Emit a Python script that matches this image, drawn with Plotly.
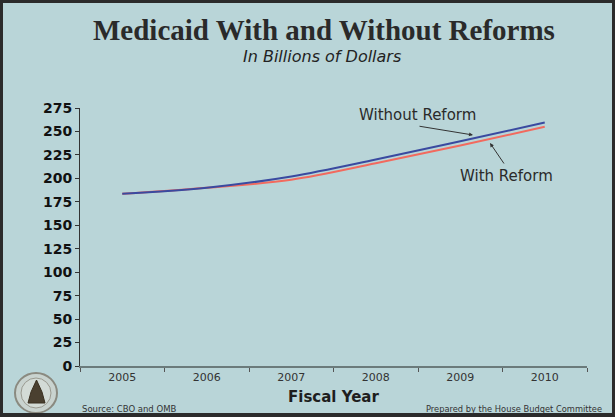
import plotly.graph_objects as go

years = ["2005", "2006", "2007", "2008", "2009", "2010"]
without_reform = [183.5, 190, 202, 220, 239.5, 259.5]
with_reform = [183.5, 190, 198.5, 216, 235, 255]
y_ticks = [0, 25, 50, 75, 100, 125, 150, 175, 200, 225, 250, 275]

W, H = 615, 417
L, R, T, B = 80, 28, 108, 51
PW, PH = W - L - R, H - T - B


def px(x):
    return (x - L) / PW


def py(y):
    return (H - B - y) / PH


BG = "#b9d5d8"

fig = go.Figure()
fig.add_trace(go.Scatter(x=years, y=with_reform, mode="lines", line=dict(color="#f26a5e", width=2, shape="spline"),
                         name="With Reform", showlegend=False))
fig.add_trace(go.Scatter(x=years, y=without_reform, mode="lines", line=dict(color="#3a4aa0", width=2, shape="spline"),
                         name="Without Reform", showlegend=False))

ann = []
ann.append(dict(text="<b>Medicaid With and Without Reforms</b>", x=px(324), y=py(30), xref="paper", yref="paper",
                showarrow=False, font=dict(family="Liberation Serif", size=29, color="#2a2a2a"),
                xanchor="center", yanchor="middle"))
ann.append(dict(text="<i>In Billions of Dollars</i>", x=px(322), y=py(56), xref="paper", yref="paper",
                showarrow=False, font=dict(family="DejaVu Sans", size=16, color="#222"),
                xanchor="center", yanchor="middle"))
ann.append(dict(text="Without Reform", x=px(417), y=py(115), xref="paper", yref="paper", showarrow=False,
                font=dict(family="DejaVu Sans", size=15, color="#2a2a2a"), xanchor="center", yanchor="middle"))
ann.append(dict(text="With Reform", x=px(506), y=py(176), xref="paper", yref="paper", showarrow=False,
                font=dict(family="DejaVu Sans", size=15, color="#2a2a2a"), xanchor="center", yanchor="middle"))
ann.append(dict(text="", x=px(473), y=py(135), xref="paper", yref="paper", showarrow=True,
                ax=-55, ay=-9, arrowhead=2, arrowsize=0.8, arrowwidth=1, arrowcolor="#333"))
ann.append(dict(text="", x=px(490), y=py(143), xref="paper", yref="paper", showarrow=True,
                ax=15, ay=22, arrowhead=2, arrowsize=0.8, arrowwidth=1, arrowcolor="#333"))
ann.append(dict(text="<b>Fiscal Year</b>", x=px(333), y=py(397), xref="paper", yref="paper", showarrow=False,
                font=dict(family="DejaVu Sans", size=15, color="#1e1e1e"), xanchor="center", yanchor="middle"))
ann.append(dict(text="Source: CBO and OMB", x=px(80), y=py(409), xref="paper", yref="paper", showarrow=False,
                font=dict(family="DejaVu Sans", size=8.5, color="#333"), xanchor="left", yanchor="middle"))
ann.append(dict(text="Prepared by the House Budget Committee", x=px(424), y=py(409), xref="paper", yref="paper",
                showarrow=False, font=dict(family="DejaVu Sans", size=8.3, color="#333"), xanchor="left",
                yanchor="middle"))

shapes = []
# logo seal
shapes.append(dict(type="circle", xref="paper", yref="paper", x0=px(15), x1=px(57), y0=py(373), y1=py(413),
                   line=dict(color="#8a8a80", width=2), fillcolor="#c9d3cf", layer="above"))
shapes.append(dict(type="circle", xref="paper", yref="paper", x0=px(21), x1=px(51), y0=py(378), y1=py(408),
                   line=dict(color="#9a9a90", width=1), fillcolor="#d3dbd6", layer="above"))
dome = "M {a},{b} L {c},{b} L {d},{e} L {f},{g} L {h},{e} Z".format(
    a=px(28), b=py(403), c=px(45), d=px(42), e=py(392), f=px(36.5), g=py(380), h=px(31))
shapes.append(dict(type="path", xref="paper", yref="paper", path=dome, fillcolor="#4a4030",
                   line=dict(color="#3a3020", width=1), layer="above"))
# border frame
for x0, x1, y0, y1 in [(0, 615, 0, 3), (0, 615, 413, 417), (0, 3, 0, 417), (612, 615, 0, 417)]:
    shapes.append(dict(type="rect", xref="paper", yref="paper", x0=px(x0), x1=px(x1), y0=py(y1), y1=py(y0),
                       fillcolor="#2b2b2b", line=dict(width=0), layer="above"))

fig.update_layout(
    width=W, height=H,
    margin=dict(l=L, r=R, t=T, b=B),
    paper_bgcolor=BG, plot_bgcolor=BG,
    showlegend=False,
    annotations=ann,
    shapes=shapes,
    xaxis=dict(type="category", range=[-0.5, 5.5], tickson="boundaries", ticks="outside", ticklen=4,
               tickcolor="#555", showline=True, linecolor="#6b7b7b", linewidth=2, showgrid=False, zeroline=False,
               tickfont=dict(family="DejaVu Sans", size=11, color="#333")),
    yaxis=dict(range=[0, 275], tickvals=y_ticks, ticks="outside", ticklen=4, tickcolor="#333",
               showline=True, linecolor="#333", linewidth=1, showgrid=False, zeroline=False,
               tickfont=dict(family="DejaVu Sans", size=14, color="#111", weight="bold")),
)

fig.write_html("out.html", config={"displayModeBar": False},
               post_script="document.body.style.margin='0';document.body.style.overflow='hidden';")
